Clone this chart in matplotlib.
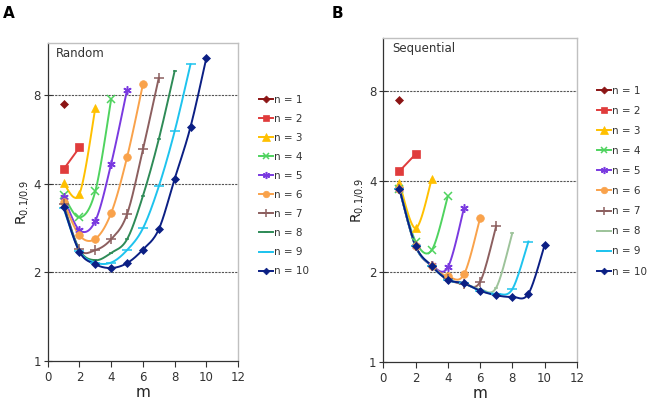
import numpy as np
import matplotlib
matplotlib.use("Agg")
import matplotlib.pyplot as plt
from matplotlib.lines import Line2D

plt.rcParams['font.family'] = ['DejaVu Sans']

# ---------------- data ----------------
labels = ["n = %d" % k for k in range(1, 11)]

# Panel A (Random): values for m = 1..len
random_vals = [
    [7.46],
    [4.47, 5.30],
    [4.01, 3.69, 7.20],
    [3.65, 3.07, 3.77, 7.72],
    [3.61, 2.78, 2.99, 4.67, 8.30],
    [3.47, 2.67, 2.60, 3.18, 4.91, 8.67],
    [3.40, 2.40, 2.38, 2.59, 3.15, 5.22, 9.12],
    [3.35, 2.38, 2.20, 2.33, 2.59, 3.63, 5.65, 9.62],
    [3.30, 2.36, 2.16, 2.16, 2.38, 2.82, 3.91, 6.01, 10.14],
    [3.33, 2.35, 2.13, 2.07, 2.15, 2.39, 2.80, 4.15, 6.22, 10.66],
]

# Panel B (Sequential)
sequential_vals = [
    [7.45],
    [4.32, 4.92],
    [3.94, 2.79, 4.06],
    [3.78, 2.52, 2.36, 3.56],
    [3.76, 2.43, 2.10, 2.07, 3.25],
    [3.76, 2.43, 2.09, 1.93, 1.96, 3.01],
    [3.76, 2.43, 2.09, 1.89, 1.82, 1.85, 2.84],
    [3.76, 2.43, 2.09, 1.88, 1.83, 1.75, 1.77, 2.69],
    [3.76, 2.43, 2.09, 1.88, 1.83, 1.73, 1.69, 1.75, 2.52],
    [3.76, 2.44, 2.09, 1.88, 1.83, 1.73, 1.67, 1.65, 1.69, 2.45],
]

y_ticks = [1, 2, 4, 8]
x_ticks = [0, 2, 4, 6, 8, 10, 12]

# ---------------- styles ----------------
colors_a = ["#8B1414", "#E03C3C", "#FFC000", "#4FD35F", "#7A3AE0",
            "#F9A24B", "#8C5F5F", "#2E8B57", "#1EC3EE", "#0B1F84"]
colors_b = ["#8B1414", "#E03C3C", "#FFC000", "#4FD35F", "#7A3AE0",
            "#F9A24B", "#8C5F5F", "#9DC39A", "#1EC3EE", "#0B1F84"]
markers = ["D", "s", "^", "x", (6, 2, 0), "o", "+", "_", "_", "D"]
msizes = [4.2, 5.5, 6, 5.5, 6, 5.5, 6.5, 3.5, 6.5, 4]
thin = {3, 4, 6, 7, 8}


def bezier_smooth(x, y, sx=15.9, sy=89.0, npts=24):
    X = np.asarray(x, float) * sx
    Y = np.log2(np.asarray(y, float)) * sy
    n = len(X)
    if n < 3:
        return np.asarray(x, float), np.asarray(y, float)
    P = np.column_stack([X, Y])
    out = [P[0]]
    t = np.linspace(0, 1, npts)[1:]
    for i in range(n - 1):
        p0 = P[i - 1] if i > 0 else P[i]
        p1 = P[i]
        p2 = P[i + 1]
        p3 = P[i + 2] if i + 2 < n else P[i + 1]
        b1 = p1 + (p2 - p0) / 6.0
        b2 = p2 - (p3 - p1) / 6.0
        for tt in t:
            pt = ((1 - tt) ** 3) * p1 + 3 * ((1 - tt) ** 2) * tt * b1 + \
                 3 * (1 - tt) * tt ** 2 * b2 + tt ** 3 * p2
            out.append(pt)
    out = np.array(out)
    return out[:, 0] / sx, 2 ** (out[:, 1] / sy)


fig = plt.figure(figsize=(6.61, 4.11), dpi=100)
axA = fig.add_axes([0.0722, 0.121, 0.288, 0.775])
axB = fig.add_axes([0.580, 0.1185, 0.2926, 0.790])


def draw(ax, vals, colors, title, leg_anchor, leg_spacing):
    handles = []
    for k, v in enumerate(vals):
        m = np.arange(1, len(v) + 1)
        c = colors[k]
        sx, sy = bezier_smooth(m, v)
        if len(v) > 1:
            ax.plot(sx, sy, color=c, lw=1.4, zorder=3)
        mew = 1.1 if k in thin else 0.5
        ax.plot(m, v, linestyle="none", marker=markers[k], ms=msizes[k],
                color=c, mfc=c, mec=c, mew=mew, zorder=4)
        handles.append(Line2D([0], [0], color=c, lw=1.4, marker=markers[k],
                              ms=msizes[k] * 0.85, mfc=c, mec=c, mew=mew))
    ax.set_yscale("log", base=2)
    ax.set_ylim(1, 12)
    ax.set_xlim(0, 12)
    ax.set_yticks(y_ticks)
    ax.set_yticklabels([str(t) for t in y_ticks])
    ax.yaxis.set_minor_locator(matplotlib.ticker.NullLocator())
    ax.set_xticks(x_ticks)
    ax.set_xticklabels([str(t) for t in x_ticks])
    for yv in [2, 4, 8]:
        ax.axhline(yv, color="#555555", lw=0.8, ls=(0, (2, 1)), zorder=1)
    ax.tick_params(axis="y", direction="inout", length=6, width=0.8,
                   labelsize=8.5, colors="#333333", pad=2)
    ax.tick_params(axis="x", direction="out", length=4, width=0.8,
                   labelsize=8.5, colors="#333333", pad=3)
    for s in ["top", "right"]:
        ax.spines[s].set_color("#C0C0C0")
        ax.spines[s].set_linewidth(1.0)
    for s in ["left", "bottom"]:
        ax.spines[s].set_color("#333333")
        ax.spines[s].set_linewidth(0.9)
    ax.set_xlabel("m", fontsize=11, labelpad=1, color="#222222")
    ax.set_ylabel(r"R$_{0.1/0.9}$", fontsize=10, labelpad=2, color="#222222")
    ax.text(0.045, 0.965, title, transform=ax.transAxes, fontsize=8.5,
            va="center", ha="left", color="#333333")
    leg = ax.legend(handles, labels, loc="upper left", bbox_to_anchor=leg_anchor,
                    frameon=False, fontsize=7.5, handlelength=1.35,
                    handletextpad=0.1, labelspacing=leg_spacing,
                    borderaxespad=0)
    for t in leg.get_texts():
        t.set_color("#333333")


draw(axA, random_vals, colors_a, "Random", (1.09, 0.85), 0.87)
draw(axB, sequential_vals, colors_b, "Sequential", (1.085, 0.865), 0.97)

fig.text(0.005, 0.985, "A", fontsize=11, fontweight="bold", va="top", ha="left")
fig.text(0.501, 0.985, "B", fontsize=11, fontweight="bold", va="top", ha="left")

fig.savefig("out.png", dpi=100)
